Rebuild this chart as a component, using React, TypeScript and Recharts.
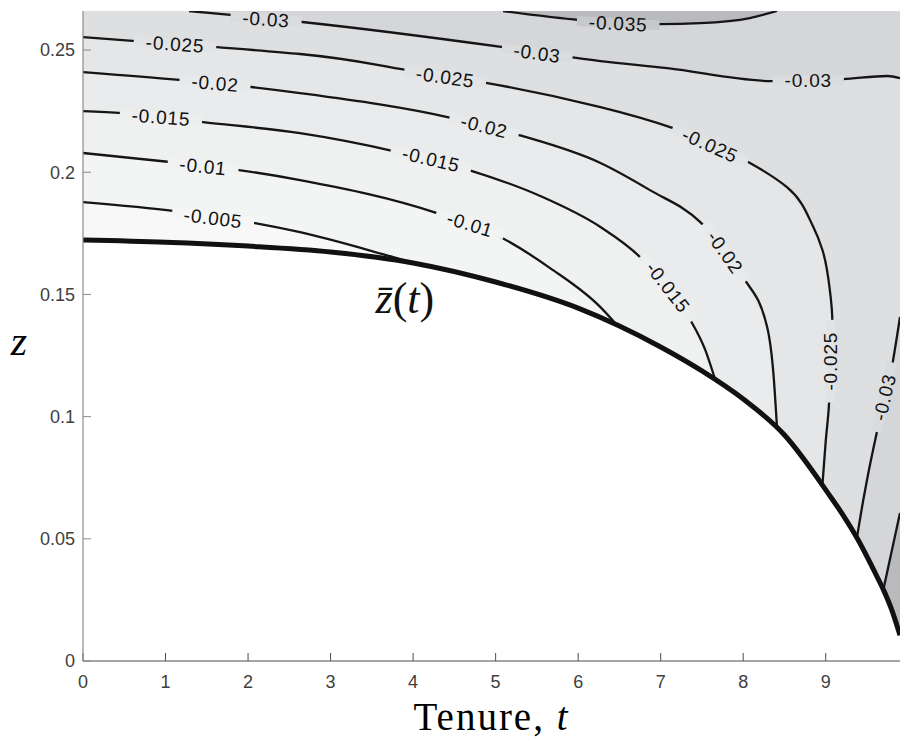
import React from "react";
import { ComposedChart, XAxis, YAxis, Area, Line, Scatter, Label } from "recharts";

const T_MAX = 9.9;
const Z_MAX = 0.266;
const T_TICKS = [0, 1, 2, 3, 4, 5, 6, 7, 8, 9];
const Z_TICKS = [0, 0.05, 0.1, 0.15, 0.2, 0.25];

// thick boundary z-bar(t)
const BOUNDARY = [
  { t: 0, z: 0.1723 },
  { t: 1, z: 0.1714 },
  { t: 2, z: 0.1698 },
  { t: 3, z: 0.1674 },
  { t: 4, z: 0.1629 },
  { t: 5, z: 0.1551 },
  { t: 6, z: 0.1444 },
  { t: 6.5, z: 0.1371 },
  { t: 7, z: 0.1285 },
  { t: 7.5, z: 0.1187 },
  { t: 8, z: 0.1072 },
  { t: 8.5, z: 0.0925 },
  { t: 8.9, z: 0.0749 },
  { t: 9.0, z: 0.07 },
  { t: 9.2, z: 0.0602 },
  { t: 9.4, z: 0.0491 },
  { t: 9.6, z: 0.036 },
  { t: 9.7, z: 0.0291 },
  { t: 9.8, z: 0.0209 },
  { t: 9.9, z: 0.0105 },
];

// contour lines
const C005 = [
  { t: 0, z: 0.1878 },
  { t: 1.115, z: 0.1841 },
  { t: 2.085, z: 0.1792 },
  { t: 2.63, z: 0.1755 },
  { t: 3.76, z: 0.1653 },
  { t: 4.17, z: 0.1614 },
];
const C010 = [
  { t: 0, z: 0.2079 },
  { t: 1.055, z: 0.2042 },
  { t: 1.891, z: 0.2009 },
  { t: 2.63, z: 0.1968 },
  { t: 4.29, z: 0.1833 },
  { t: 5.08, z: 0.1731 },
  { t: 5.66, z: 0.1608 },
  { t: 6.27, z: 0.1448 },
  { t: 6.46, z: 0.1378 },
];
const C015 = [
  { t: 0, z: 0.225 },
  { t: 0.473, z: 0.2242 },
  { t: 1.455, z: 0.2205 },
  { t: 2.63, z: 0.216 },
  { t: 3.76, z: 0.2087 },
  { t: 4.715, z: 0.2005 },
  { t: 5.54, z: 0.1903 },
  { t: 6.27, z: 0.1776 },
  { t: 6.75, z: 0.1653 },
  { t: 7.05, z: 0.1538 },
  { t: 7.36, z: 0.1395 },
  { t: 7.54, z: 0.1273 },
  { t: 7.66, z: 0.1152 },
];
const C020 = [
  { t: 0, z: 0.241 },
  { t: 1.2, z: 0.2377 },
  { t: 2.036, z: 0.2349 },
  { t: 2.63, z: 0.2324 },
  { t: 4.47, z: 0.2222 },
  { t: 5.285, z: 0.2152 },
  { t: 6.27, z: 0.2038 },
  { t: 6.87, z: 0.1927 },
  { t: 7.48, z: 0.1796 },
  { t: 8.0, z: 0.1571 },
  { t: 8.29, z: 0.1367 },
  { t: 8.37, z: 0.116 },
  { t: 8.41, z: 0.0953 },
];
const C025 = [
  { t: 0, z: 0.2553 },
  { t: 0.642, z: 0.2537 },
  { t: 1.624, z: 0.2512 },
  { t: 2.63, z: 0.2484 },
  { t: 3.93, z: 0.2418 },
  { t: 4.9, z: 0.2365 },
  { t: 6.27, z: 0.2267 },
  { t: 7.15, z: 0.2181 },
  { t: 7.6, z: 0.2119 },
  { t: 8.06, z: 0.2042 },
  { t: 8.53, z: 0.1939 },
  { t: 8.85, z: 0.1776 },
  { t: 8.96, z: 0.1682 },
  { t: 9.05, z: 0.1518 },
  { t: 9.08, z: 0.1387 },
  { t: 9.05, z: 0.1232 },
  { t: 9.04, z: 0.1056 },
  { t: 9.0, z: 0.09 },
  { t: 8.96, z: 0.072 },
];
const C030_TOP = [
  { t: 1.285, z: 0.266 },
  { t: 1.82, z: 0.2643 },
  { t: 2.655, z: 0.2615 },
  { t: 5.09, z: 0.2512 },
  { t: 6.27, z: 0.2455 },
  { t: 7.08, z: 0.2426 },
  { t: 8.36, z: 0.2373 },
  { t: 9.21, z: 0.2381 },
  { t: 9.75, z: 0.2394 },
  { t: 9.9, z: 0.2385 },
];
const C030_RIGHT = [
  { t: 9.38, z: 0.0508 },
  { t: 9.455, z: 0.0659 },
  { t: 9.5, z: 0.0741 },
  { t: 9.62, z: 0.0937 },
  { t: 9.81, z: 0.1219 },
  { t: 9.9, z: 0.1408 },
];
const C035_TOP = [
  { t: 5.09, z: 0.266 },
  { t: 6.02, z: 0.2623 },
  { t: 6.99, z: 0.2606 },
  { t: 7.48, z: 0.261 },
  { t: 8.08, z: 0.2631 },
  { t: 8.41, z: 0.266 },
];
const C035_RIGHT = [
  { t: 9.7, z: 0.0295 },
  { t: 9.9, z: 0.0606 },
];

// inline contour labels
const LABEL_TEXT = [
  "-0.005", "-0.01", "-0.015", "-0.02", "-0.025", "-0.03",
  "-0.03", "-0.025", "-0.02", "-0.015", "-0.01", "-0.035",
  "-0.03", "-0.025", "-0.02", "-0.015", "-0.025", "-0.03",
];
const LABEL_T = [
  1.576, 1.455, 0.945, 1.6, 1.115, 2.218,
  5.503, 4.388, 4.861, 4.218, 4.691, 6.485,
  8.788, 7.6, 7.782, 7.091, 9.055, 9.709,
];
const LABEL_Z = [
  0.1813, 0.2025, 0.2226, 0.2365, 0.2525, 0.2627,
  0.2488, 0.239, 0.2189, 0.2054, 0.1788, 0.261,
  0.2377, 0.2111, 0.1673, 0.153, 0.1227, 0.108,
];
const LABEL_ANGLE = [7, 6, 4, 5, 4, 4, 8, 8, 14, 13, 17, 3, 0, 24, 55, 52, -90, -77];

const LEVELS = ["0", "-0.005", "-0.01", "-0.015", "-0.02", "-0.025", "-0.03", "-0.035"];
const BAND_COLORS = ["#f8f8f8", "#f3f4f4", "#eff0f0", "#eaebec", "#e5e6e7", "#dedfe1", "#d5d6d9", "#b9babd"];

const LABELS = LABEL_TEXT.map((text, i) => ({
  t: LABEL_T[i],
  z: LABEL_Z[i],
  text,
  angle: LABEL_ANGLE[i],
}));

const ANNOTATION = [{ t: 3.9, z: 0.1425 }];

const withTail = (c: { t: number; z: number }[]) => {
  const last = c[c.length - 1];
  return [...c, ...BOUNDARY.filter((p) => p.t > last.t + 0.02)];
};

const bandColor = (level: string) => BAND_COLORS[LEVELS.indexOf(level)];

const mix = (a: string, b: string) => {
  const pa = [1, 3, 5].map((k) => parseInt(a.slice(k, k + 2), 16));
  const pb = [1, 3, 5].map((k) => parseInt(b.slice(k, k + 2), 16));
  return "rgb(" + pa.map((v, i) => Math.round((v + pb[i]) / 2)).join(",") + ")";
};

const charWidth = (ch: string) => (ch === "-" ? 0.333 : ch === "." ? 0.278 : 0.556);

const LABEL_FS = 19;
const LABEL_SPACING = 0.8;

const renderContourLabel = (props: any) => {
  const { cx, cy, payload } = props;
  if (cx == null || cy == null || !payload) return <g />;
  const chars = payload.text.split("");
  const textW = chars.reduce((s: number, ch: string) => s + charWidth(ch), 0) * LABEL_FS + chars.length * LABEL_SPACING;
  const w = textW + 24;
  const k = LEVELS.indexOf(payload.text);
  const bg = mix(BAND_COLORS[k - 1], BAND_COLORS[k]);
  return (
    <g transform={`translate(${cx},${cy}) rotate(${payload.angle})`}>
      <rect x={-w / 2} y={-5} width={w} height={10} fill={bg} />
      <text
        x={0}
        y={0}
        dy="0.36em"
        textAnchor="middle"
        fontFamily="'Liberation Sans', Arial, sans-serif"
        fontSize={LABEL_FS}
        letterSpacing={LABEL_SPACING}
        fill="#111"
      >
        {payload.text}
      </text>
    </g>
  );
};

const renderAnnotation = (props: any) => {
  const { cx, cy } = props;
  if (cx == null || cy == null) return <g />;
  return (
    <text x={cx} y={cy} textAnchor="middle" fontFamily="'Liberation Serif', serif" fontSize={44} fill="#111">
      <tspan fontStyle="italic">{"z\u0304"}</tspan>(<tspan fontStyle="italic">t</tspan>)
    </text>
  );
};

const AXIS_FONT = { fontSize: 18, fill: "#404040", fontFamily: "'Liberation Sans', Arial, sans-serif" };

export default function App() {
  const fillLevels = [
    { level: "-0.005", data: withTail(C005) },
    { level: "-0.01", data: withTail(C010) },
    { level: "-0.015", data: withTail(C015) },
    { level: "-0.02", data: withTail(C020) },
    { level: "-0.025", data: withTail(C025) },
  ];
  const lines = [C005, C010, C015, C020, C025, C030_TOP, C030_RIGHT, C035_TOP, C035_RIGHT];
  return (
    <div style={{ position: "absolute", left: 0, top: 0, width: 901, height: 739, background: "#fff" }}>
      <ComposedChart width={901} height={739} margin={{ top: 11, right: 1, bottom: 0, left: 0 }}>
        <XAxis
          dataKey="t"
          type="number"
          domain={[0, T_MAX]}
          ticks={T_TICKS}
          allowDataOverflow
          height={78}
          tickSize={-8}
          tickMargin={22}
          tick={AXIS_FONT}
          axisLine={{ stroke: "#4d4d4d", strokeWidth: 1.2 }}
          tickLine={{ stroke: "#4d4d4d" }}
        >
          <Label
            content={(p: any) => {
              const vb = p.viewBox || { x: 83, y: 661, width: 817, height: 78 };
              return (
                <text
                  x={vb.x + vb.width / 2}
                  y={vb.y + 69}
                  textAnchor="middle"
                  fontFamily="'Liberation Serif', serif"
                  fontSize={39}
                  letterSpacing={2}
                  fill="#000"
                >
                  Tenure, <tspan fontStyle="italic">t</tspan>
                </text>
              );
            }}
          />
        </XAxis>
        <YAxis
          type="number"
          domain={[0, Z_MAX]}
          ticks={Z_TICKS}
          allowDataOverflow
          width={83}
          tickSize={-8}
          tickMargin={16}
          tick={AXIS_FONT}
          tickFormatter={(v: number) => String(v)}
          axisLine={{ stroke: "#8c8c8c", strokeWidth: 1.2 }}
          tickLine={{ stroke: "#8c8c8c" }}
        >
          <Label
            content={(p: any) => {
              const vb = p.viewBox || { x: 0, y: 11, width: 83, height: 650 };
              return (
                <text
                  x={19}
                  y={vb.y + vb.height / 2 + 19}
                  textAnchor="middle"
                  fontFamily="'Liberation Serif', serif"
                  fontStyle="italic"
                  fontSize={42}
                  fill="#000"
                >
                  z
                </text>
              );
            }}
          />
        </YAxis>

        <Area data={BOUNDARY} dataKey="z" type="monotoneX" baseValue={Z_MAX} fill={bandColor("0")} fillOpacity={1} stroke="none" isAnimationActive={false} />
        {fillLevels.map((f) => (
          <Area
            key={f.level}
            data={f.data}
            dataKey="z"
            type="linear"
            baseValue={Z_MAX}
            fill={bandColor(f.level)}
            fillOpacity={1}
            stroke="none"
            isAnimationActive={false}
          />
        ))}
        <Area data={C030_TOP} dataKey="z" type="monotoneX" baseValue={Z_MAX} fill={bandColor("-0.03")} fillOpacity={1} stroke="none" isAnimationActive={false} />
        <Area data={C035_TOP} dataKey="z" type="monotoneX" baseValue={Z_MAX} fill={bandColor("-0.035")} fillOpacity={1} stroke="none" isAnimationActive={false} />
        <Area data={C030_RIGHT} dataKey="z" type="monotoneX" baseValue={0} fill={bandColor("-0.03")} fillOpacity={1} stroke="none" isAnimationActive={false} />
        <Area data={C035_RIGHT} dataKey="z" type="linear" baseValue={0} fill={bandColor("-0.035")} fillOpacity={1} stroke="none" isAnimationActive={false} />
        <Area data={BOUNDARY} dataKey="z" type="monotoneX" baseValue={0} fill="#ffffff" fillOpacity={1} stroke="none" isAnimationActive={false} />

        {lines.map((c, i) => (
          <Line
            key={i}
            data={c}
            dataKey="z"
            type={c === C025 ? "monotoneY" : "monotoneX"}
            stroke="#151515"
            strokeWidth={2.3}
            dot={false}
            activeDot={false}
            isAnimationActive={false}
          />
        ))}
        <Line data={BOUNDARY} dataKey="z" type="monotoneX" stroke="#111" strokeWidth={5} dot={false} activeDot={false} isAnimationActive={false} />

        <Scatter data={LABELS} dataKey="z" shape={renderContourLabel} isAnimationActive={false} />
        <Scatter data={ANNOTATION} dataKey="z" shape={renderAnnotation} isAnimationActive={false} />
      </ComposedChart>
    </div>
  );
}
